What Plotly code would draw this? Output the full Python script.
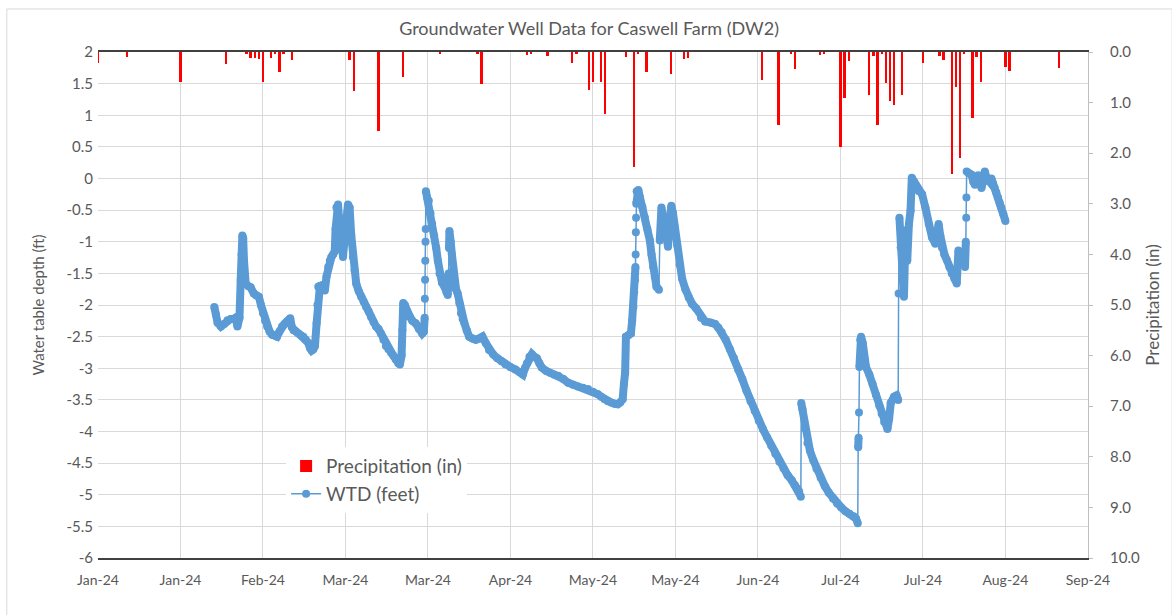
import pandas as pd
import plotly.graph_objects as go

DATA_START = "2024-01-08"

# WTD (feet): day offsets from DATA_START and water table depth values
wtd_day = [28.2, 28.6, 29.0, 29.8, 30.6, 31.4, 32.2, 33.0, 33.4, 33.8, 34.3, 34.6, 34.8, 35.0, 35.2, 35.4, 35.6, 35.8,
           36.4, 37.0, 37.8, 38.4, 39.0, 39.5, 40.0, 40.5, 41.0, 41.6, 42.2, 42.8, 43.4, 44.0, 44.6, 45.2, 45.8, 46.6,
           47.0, 47.4, 48.0, 48.6, 49.2, 49.8, 50.4, 51.0, 51.4, 51.8, 52.2, 52.6, 53.0, 53.2, 53.4, 53.8, 54.2, 54.6,
           55.0, 55.4, 55.8, 56.2, 56.6, 57.0, 57.4, 57.6, 57.8, 58.2, 58.5, 58.8, 59.4, 60.0, 60.6, 61.0, 61.4, 61.8,
           62.2, 62.6, 63.2, 63.8, 64.4, 65.0, 65.6, 66.2, 66.8, 67.4, 68.0, 68.6, 69.2, 69.8, 70.4, 71.0, 71.6, 72.2,
           72.8, 73.2, 73.6, 73.8, 74.0, 74.4, 75.0, 75.4, 76.2, 77.0, 77.8, 78.6, 79.0, 79.2, 79.25, 79.3, 79.35,
           79.4, 79.45, 79.5, 79.8, 80.2, 80.6, 81.0, 81.5, 82.0, 82.4, 82.8, 83.4, 84.0, 84.5, 84.8, 85.0, 85.1, 85.2,
           85.5, 85.8, 86.1, 86.4, 86.8, 87.2, 87.6, 88.0, 88.4, 88.8, 89.4, 90.0, 90.8, 91.6, 92.4, 93.2, 94.0, 94.8,
           95.8, 96.8, 97.8, 98.8, 100.0, 101.2, 102.2, 103.0, 103.5, 104.0, 104.6, 105.2, 105.8, 106.4, 107.0, 107.6,
           108.6, 109.6, 110.6, 111.6, 112.8, 114.0, 115.2, 116.4, 117.6, 118.8, 120.0, 121.2, 122.0, 122.8, 123.6,
           124.4, 125.2, 126.0, 126.6, 127.2, 127.5, 127.8, 128.0, 128.6, 129.2, 129.5, 129.8, 130.0, 130.2, 130.3,
           130.35, 130.4, 130.45, 130.5, 130.6, 131.0, 131.4, 132.0, 132.6, 133.2, 133.8, 134.2, 134.6, 135.0, 135.4,
           136.0, 136.2, 136.6, 137.0, 137.4, 137.8, 138.2, 138.6, 139.0, 139.4, 139.8, 140.4, 141.0, 141.6, 142.4,
           143.2, 144.0, 145.0, 146.2, 147.2, 148.6, 149.6, 150.4, 151.2, 152.2, 153.2, 154.2, 155.2, 156.2, 157.2,
           158.2, 159.2, 160.2, 161.2, 162.2, 163.2, 164.2, 165.2, 166.2, 167.2, 168.2, 169.0, 169.6, 170.0, 170.4,
           170.5, 170.8, 171.4, 172.0, 172.6, 173.4, 174.2, 175.2, 176.2, 177.2, 178.2, 179.2, 180.2, 181.2, 182.2,
           183.2, 183.8, 184.2, 184.3, 184.4, 184.5, 184.6, 184.8, 185.0, 185.4, 185.8, 186.2, 187.0, 187.8, 188.6,
           189.4, 190.0, 190.6, 191.4, 191.8, 192.2, 193.0, 193.6, 194.0, 194.1, 194.3, 194.6, 195.0, 195.4, 195.8,
           196.2, 196.6, 197.0, 197.3, 197.8, 198.2, 198.6, 199.0, 199.8, 200.6, 201.4, 202.2, 203.0, 203.4, 203.8,
           204.2, 204.6, 205.2, 205.8, 206.4, 207.0, 207.6, 208.2, 208.6, 209.0, 209.4, 209.8, 210.2, 210.4, 210.5,
           210.55, 210.6, 211.2, 211.8, 212.2, 212.6, 213.0, 213.4, 213.8, 214.2, 214.6, 215.0, 215.4, 215.8, 216.2,
           216.6, 217.0, 217.4, 217.8, 218.2, 218.6, 219.0, 219.5, 220.0]
wtd_ft = [-2.03, -2.15, -2.28, -2.34, -2.30, -2.24, -2.22, -2.22, -2.20, -2.34, -2.20, -1.60, -1.20, -0.90, -0.95, -1.30,
          -1.55, -1.66, -1.70, -1.72, -1.82, -1.85, -1.87, -2.00, -2.13, -2.25, -2.34, -2.42, -2.47, -2.48, -2.50,
          -2.42, -2.34, -2.30, -2.26, -2.21, -2.35, -2.40, -2.42, -2.45, -2.48, -2.50, -2.55, -2.60, -2.68, -2.72,
          -2.70, -2.65, -2.29, -2.00, -1.71, -1.70, -1.69, -1.72, -1.77, -1.55, -1.40, -1.30, -1.24, -1.20, -1.15,
          -0.80, -0.46, -0.41, -0.70, -1.00, -1.24, -0.80, -0.41, -0.46, -0.90, -1.24, -1.45, -1.66, -1.78, -1.87,
          -1.95, -2.03, -2.10, -2.19, -2.27, -2.34, -2.38, -2.45, -2.55, -2.65, -2.70, -2.75, -2.80, -2.86, -2.92,
          -2.94, -2.80, -2.40, -1.97, -2.00, -2.10, -2.18, -2.25, -2.29, -2.38, -2.45, -2.42, -2.20, -1.90, -1.60,
          -1.30, -1.00, -0.80, -0.20, -0.30, -0.35, -0.55, -0.72, -0.90, -1.10, -1.30, -1.50, -1.65, -1.71, -1.80,
          -1.84, -1.50, -1.10, -0.83, -1.00, -1.20, -1.45, -1.66, -1.75, -1.82, -1.97, -2.13, -2.22, -2.28, -2.40,
          -2.50, -2.53, -2.55, -2.53, -2.50, -2.60, -2.71, -2.78, -2.84, -2.89, -2.94, -2.98, -3.02, -3.06, -3.10,
          -3.00, -2.92, -2.82, -2.78, -2.82, -2.84, -2.92, -2.99, -3.04, -3.07, -3.10, -3.12, -3.17, -3.23, -3.26,
          -3.29, -3.31, -3.33, -3.37, -3.41, -3.45, -3.49, -3.52, -3.54, -3.56, -3.57, -3.54, -3.49, -3.25, -3.07,
          -2.50, -2.48, -2.45, -2.25, -2.03, -1.80, -1.61, -1.40, -1.20, -0.85, -0.62, -0.40, -0.20, -0.18, -0.30,
          -0.45, -0.62, -0.80, -0.98, -1.20, -1.40, -1.55, -1.71, -1.76, -0.98, -0.46, -0.60, -0.72, -0.90, -1.08,
          -0.70, -0.43, -0.55, -0.77, -1.05, -1.36, -1.58, -1.75, -1.88, -1.98, -2.05, -2.20, -2.26, -2.28, -2.30,
          -2.36, -2.43, -2.55, -2.70, -2.84, -3.02, -3.17, -3.35, -3.52, -3.67, -3.83, -3.96, -4.09, -4.22, -4.35,
          -4.48, -4.58, -4.69, -4.77, -4.85, -4.90, -4.95, -5.03, -3.55, -3.65, -3.95, -4.18, -4.30, -4.45, -4.59,
          -4.73, -4.86, -4.97, -5.06, -5.14, -5.20, -5.26, -5.30, -5.34, -5.38, -5.45, -4.25, -4.10, -3.70, -2.98,
          -2.55, -2.50, -2.60, -2.85, -2.98, -3.10, -3.25, -3.42, -3.59, -3.72, -3.85, -3.96, -3.80, -3.55, -3.45,
          -3.43, -3.50, -1.82, -0.62, -1.09, -1.60, -1.87, -0.82, -1.30, -0.72, -0.51, 0.01, -0.05, -0.10, -0.15,
          -0.20, -0.25, -0.46, -0.72, -0.93, -1.03, -0.85, -0.72, -0.90, -1.09, -1.20, -1.29, -1.40, -1.50, -1.58,
          -1.66, -1.14, -1.20, -1.18, -1.30, -1.40, -1.00, -0.62, -0.30, 0.11, 0.08, 0.06, -0.05, -0.10, -0.02, 0.05,
          -0.05, -0.15, -0.02, 0.11, 0.02, -0.04, -0.05, 0.00, -0.08, -0.15, -0.22, -0.30, -0.38, -0.46, -0.56, -0.67]

# Precipitation (in): day offsets from DATA_START and daily totals
precip_day = [0, 7, 20, 31, 36, 37, 38, 39, 40, 42, 43, 44, 45, 47, 61, 62, 68, 74, 83, 92, 93, 104, 105, 109, 115,
              116, 119, 120, 122, 123, 128, 130, 131, 133, 139, 142, 143, 161, 165, 168, 169, 175, 176, 180, 181,
              182, 187, 188, 189, 190, 191, 192, 193, 195, 200, 204, 205, 207, 208, 209, 210, 212, 213, 214, 220,
              221, 233]
precip_in = [0.21, 0.09, 0.59, 0.24, 0.03, 0.12, 0.12, 0.14, 0.59, 0.12, 0.03, 0.39, 0.03, 0.16, 0.16, 0.78, 1.57,
             0.50, 0.02, 0.02, 0.64, 0.05, 0.02, 0.07, 0.22, 0.02, 0.76, 0.59, 0.60, 1.23, 0.10, 2.27, 0.03, 0.40,
             0.43, 0.13, 0.11, 0.55, 1.44, 0.02, 0.34, 0.06, 0.02, 1.88, 0.90, 0.17, 0.84, 0.07, 1.44, 0.03, 0.62,
             0.96, 1.05, 0.85, 0.22, 0.07, 0.16, 2.41, 0.69, 2.10, 0.02, 1.30, 0.10, 0.59, 0.29, 0.38, 0.31]

# Axis ticks
left_tickvals = [2, 1.5, 1, 0.5, 0, -0.5, -1, -1.5, -2, -2.5, -3, -3.5, -4, -4.5, -5, -5.5, -6]
left_ticktext = ["2", "1.5", "1", "0.5", "0", "-0.5", "-1", "-1.5", "-2", "-2.5", "-3", "-3.5", "-4", "-4.5",
                 "-5", "-5.5", "-6"]
right_tickvals = [0, 1, 2, 3, 4, 5, 6, 7, 8, 9, 10]
right_ticktext = ["0.0", "1.0", "2.0", "3.0", "4.0", "5.0", "6.0", "7.0", "8.0", "9.0", "10.0"]
x_tick_count = 13
x_tick_step_days = 20

start = pd.Timestamp(DATA_START)
wtd_x = [start + pd.Timedelta(days=d) for d in wtd_day]
precip_x = [start + pd.Timedelta(days=d) for d in precip_day]
x_ticks = pd.date_range(start, periods=x_tick_count, freq=f"{x_tick_step_days}D")

# dense-record look: a thick band through the readings, broken at very fast jumps
JUMP_RATE = 3.0  # ft/day
band_x, band_y = [wtd_x[0]], [wtd_ft[0]]
for i in range(1, len(wtd_day)):
    rate = abs(wtd_ft[i] - wtd_ft[i - 1]) / (wtd_day[i] - wtd_day[i - 1])
    if rate > JUMP_RATE:
        band_x.append(None)
        band_y.append(None)
    band_x.append(wtd_x[i])
    band_y.append(wtd_ft[i])

FONT = "Lato, 'Open Sans', sans-serif"
GRAY = "#595959"
BLUE = "#5B9BD5"

fig = go.Figure()
fig.add_trace(go.Bar(
    x=precip_x, y=precip_in, name="Precipitation (in)", yaxis="y2",
    marker=dict(color="#FF0000", line=dict(width=0)),
    width=0.55 * 86400000,
))
fig.add_trace(go.Scatter(
    x=band_x, y=band_y, mode="lines", showlegend=False, hoverinfo="skip",
    line=dict(color=BLUE, width=8), connectgaps=False,
))
fig.add_trace(go.Scatter(
    x=wtd_x, y=wtd_ft, name="WTD (feet)", mode="lines+markers",
    line=dict(color=BLUE, width=1.5),
    marker=dict(color=BLUE, size=8),
))

fig.update_layout(
    width=1172, height=615,
    margin=dict(l=98, r=75, t=52, b=57),
    paper_bgcolor="white", plot_bgcolor="white",
    font=dict(family=FONT, color=GRAY, size=14),
    title=dict(text="Groundwater Well Data for Caswell Farm (DW2)", x=0.5026, xanchor="center",
               y=0.953, yanchor="middle", font=dict(size=18, color=GRAY, family=FONT)),
    showlegend=True,
    legend=dict(x=0.19, y=0.219, xanchor="left", yanchor="top", bgcolor="white",
                font=dict(size=19, color=GRAY, family=FONT), itemwidth=30, tracegroupgap=0),
    bargap=0,
    xaxis=dict(
        type="date",
        range=[x_ticks[0], x_ticks[-1] + pd.Timedelta(minutes=30)],
        tickmode="array", tickvals=list(x_ticks),
        ticktext=[t.strftime("%b-%y") for t in x_ticks],
        showgrid=True, gridcolor="#D9D9D9", gridwidth=1,
        showline=True, linecolor="#404040", linewidth=1.5, mirror=True,
        ticks="", tickfont=dict(size=14, color=GRAY), zeroline=False, ticklabelstandoff=8,
    ),
    yaxis=dict(
        range=[-6, 2], tickmode="array", tickvals=left_tickvals, ticktext=left_ticktext,
        showgrid=True, gridcolor="#D9D9D9", gridwidth=1, zeroline=False, showline=False,
        tickfont=dict(size=15, color=GRAY), ticklabelstandoff=4,
        title=dict(text="Water table depth (ft)", font=dict(size=15, color=GRAY), standoff=18),
    ),
    yaxis2=dict(
        overlaying="y", side="right", range=[10, 0],
        tickmode="array", tickvals=right_tickvals, ticktext=right_ticktext,
        showgrid=False, zeroline=False, showline=True, linecolor="#BFBFBF", linewidth=1,
        ticks="outside", ticklen=4, tickcolor="#BFBFBF", ticklabelstandoff=14,
        tickfont=dict(size=15, color=GRAY),
        title=dict(text="Precipitation (in)", font=dict(size=17, color=GRAY), standoff=8),
    ),
    shapes=[dict(type="rect", xref="paper", yref="paper",
                 x0=-0.0921, x1=1.085, y0=-0.14, y1=1.085,
                 line=dict(color="#D9D9D9", width=1), fillcolor="rgba(0,0,0,0)", layer="below")],
)

fig.write_html("out.html", config={"displayModeBar": False},
               post_script="document.body.style.margin='0';")
